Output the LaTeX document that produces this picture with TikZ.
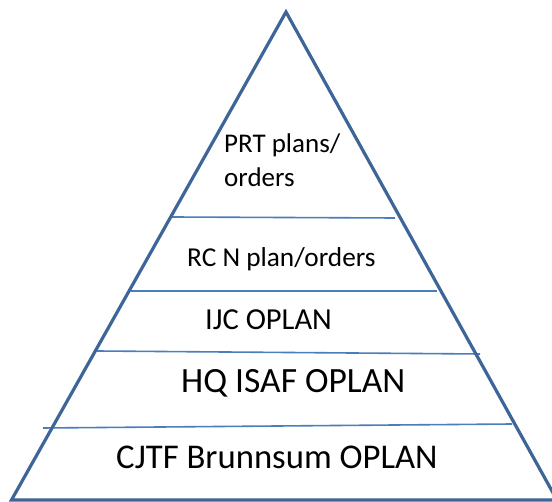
\documentclass[tikz,border=0pt]{standalone}
\usepackage{fontspec}
\setmainfont{Carlito}
\begin{document}
\begin{tikzpicture}[x=1pt,y=-1pt,
  tri/.style={draw=triblue,line width=3.2pt,line join=miter},
  tier/.style={draw=lineblue,line width=1.6pt},
  lbl/.style={anchor=base west,inner sep=0pt,text=black}]
\definecolor{triblue}{HTML}{3E6598}
\definecolor{lineblue}{HTML}{4A7EBB}
\useasboundingbox (0,0) rectangle (552,502);
\clip (0,0) rectangle (552,502);
\fill[white] (0,0) rectangle (552,502);
% triangle corners
\coordinate (apex) at (286,12);
\coordinate (bl) at (11.5,500);
\coordinate (br) at (557,500);
% tier lines
\coordinate (l1a) at (172,217); \coordinate (l1b) at (395,218);
\coordinate (l2a) at (131,291); \coordinate (l2b) at (437,291);
\coordinate (l3a) at (97,351);  \coordinate (l3b) at (480,354);
\coordinate (l4a) at (43,428);  \coordinate (l4b) at (512,424);
\draw[tier] (l1a) -- (l1b);
\draw[tier] (l2a) -- (l2b);
\draw[tier] (l3a) -- (l3b);
\draw[tier] (l4a) -- (l4b);
\draw[tri] (apex) -- (br) -- (bl) -- cycle;
% labels
\node[lbl,font=\fontsize{27}{27}\selectfont] (prt1) at (224,153) {PRT plans/};
\node[lbl,font=\fontsize{27}{27}\selectfont] (prt2) at (224,187) {orders};
\node[lbl,font=\fontsize{27.3}{27}\selectfont] (rcn) at (187,267) {RC N plan/orders};
\node[lbl,font=\fontsize{30.5}{30}\selectfont] (ijc) at (205,330) {IJC OPLAN};
\node[lbl,font=\fontsize{35.5}{35}\selectfont] (hq) at (181,393) {HQ ISAF OPLAN};
\node[lbl,font=\fontsize{34.7}{33}\selectfont] (cjtf) at (116,469) {CJTF Brunnsum OPLAN};
\end{tikzpicture}
\end{document}
